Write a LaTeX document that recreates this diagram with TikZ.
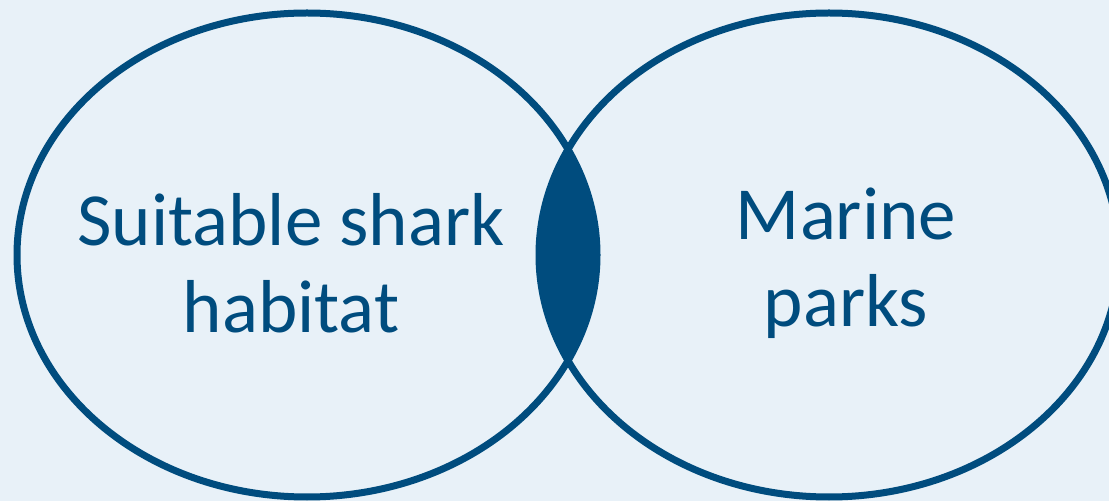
\documentclass[tikz,border=0pt]{standalone}
\usepackage{fontspec}
\setmainfont{Carlito}
\definecolor{deepblue}{HTML}{004C7E}
\definecolor{paleblue}{HTML}{E8F1F8}
\begin{document}
\begin{tikzpicture}[x=1pt, y=1pt, line width=7pt,
    setlabel/.style={text=deepblue, align=center, font=\fontsize{75}{87}\selectfont}]
  \fill[paleblue] (0, 0) rectangle (1109, 501);
  \useasboundingbox (0, 0) rectangle (1109, 501);
  \begin{scope}
    \clip (307, 246) ellipse [x radius=290, y radius=242];
    \fill[deepblue] (829, 246) ellipse [x radius=290, y radius=242];
  \end{scope}
  \draw[deepblue] (307, 246) ellipse [x radius=290, y radius=242];
  \draw[deepblue] (829, 246) ellipse [x radius=290, y radius=242];
  \node[setlabel] (habitat) at (291, 238) {Suitable shark\\habitat};
  \node[setlabel] (parks) at (846, 238) {Marine\\parks};
\end{tikzpicture}
\end{document}
